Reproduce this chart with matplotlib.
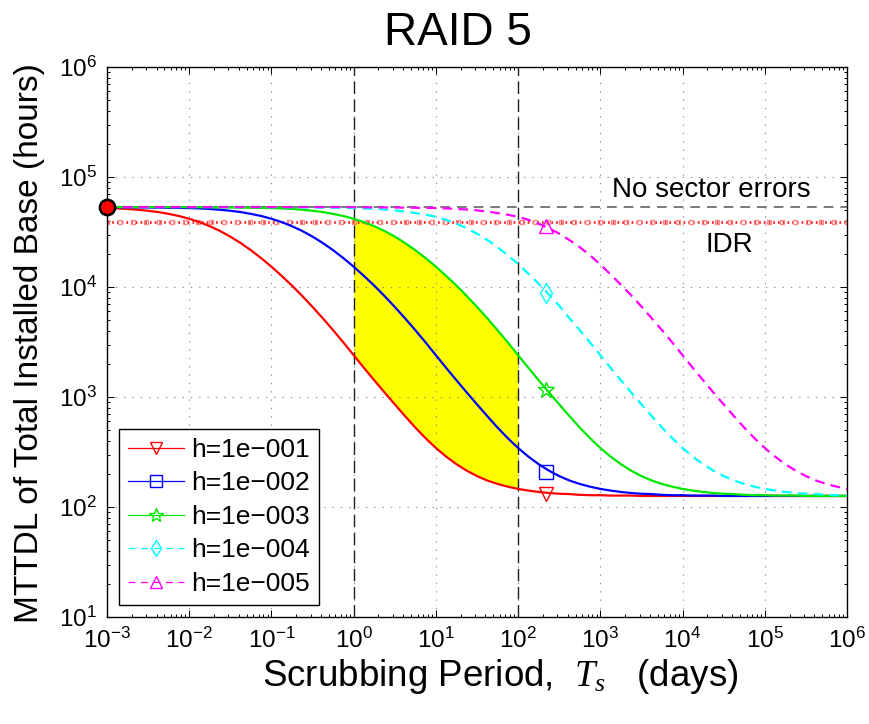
import numpy as np
import matplotlib
matplotlib.use("Agg")
import matplotlib.pyplot as plt
from matplotlib.lines import Line2D
from matplotlib.ticker import LogLocator, NullFormatter

plt.rcParams['font.family'] = ['Liberation Sans', 'DejaVu Sans']
plt.rcParams['mathtext.fontset'] = 'custom'
plt.rcParams['mathtext.rm'] = 'Liberation Sans'
plt.rcParams['mathtext.it'] = 'Liberation Serif:italic'
plt.rcParams['lines.scale_dashes'] = False

# Scrubbing period grid (days): eighth-decade steps from 1e-3 to 1e6 (73 points)
scrub_days = np.logspace(-3, 6, 73)

# MTTDL of total installed base (hours) for each latent-error rate h
mttdl_h1 = ([52200, 51800, 51200, 50400, 49300, 48000, 46200, 44200, 41700, 38900,
             35700, 32300, 28700, 25100, 21600, 18300, 15300, 12600, 10300, 8280,
             6590, 5190, 4050, 3130, 2400, 1840, 1420, 1100, 857, 670,
             527, 422, 344, 287, 245, 214, 191, 174, 162, 153,
             146, 141, 137, 134, 132, 131, 129, 128, 128, 127,
             127, 127, 126] + [126] * 20)
mttdl_h2 = ([53200, 53100, 53000, 52900, 52800, 52650, 52500, 52350,
             52200, 51800, 51200, 50400, 49300, 48000, 46200, 44200, 41700, 38900,
             35700, 32300, 28700, 25100, 21600, 18300, 15300, 12600, 10300, 8280,
             6590, 5190, 4050, 3130, 2400, 1840, 1420, 1100, 857, 670,
             527, 422, 344, 287, 245, 214, 191, 174, 162, 153,
             146, 141, 137, 134, 132, 131, 129, 128, 128, 127,
             127, 127, 126] + [126] * 12)
mttdl_h3 = ([53300] * 8 +
            [53200, 53100, 53000, 52900, 52800, 52650, 52500, 52350,
             52200, 51800, 51200, 50400, 49300, 48000, 46200, 44200, 41700, 38900,
             35700, 32300, 28700, 25100, 21600, 18300, 15300, 12600, 10300, 8280,
             6590, 5190, 4050, 3130, 2400, 1840, 1420, 1100, 857, 670,
             527, 422, 344, 287, 245, 214, 191, 174, 162, 153,
             146, 141, 137, 134, 132, 131, 129, 128, 128, 127,
             127, 127, 126] + [126] * 4)
mttdl_h4 = ([53300] * 16 +
            [53200, 53100, 53000, 52900, 52800, 52650, 52500, 52350,
             52200, 51800, 51300, 50600, 49700, 48500, 47000, 45400, 43500, 40800,
             37600, 34200, 30500, 26800, 23000, 19400, 16200, 13200, 10700, 8550,
             6750, 5190, 4050, 3130, 2400, 1840, 1420, 1100, 857, 670,
             527, 422, 344, 287, 245, 214, 191, 174, 162, 153,
             146, 141, 137, 134, 132, 131, 129, 128, 128])
mttdl_h5 = ([53300] * 24 +
            [53200, 53100, 53000, 52900, 52800, 52650, 52500, 52350,
             52200, 51800, 51300, 50600, 49700, 48500, 47000, 45400, 43500, 40800,
             37600, 34200, 30500, 26700, 23000, 19400, 16000, 13000, 10500, 8400,
             6650, 5190, 4050, 3130, 2400, 1840, 1420, 1100, 857, 670,
             527, 422, 344, 287, 245, 214, 191, 174, 162, 153,
             146])

series_labels = ['h=1e\u2212001', 'h=1e\u2212002', 'h=1e\u2212003', 'h=1e\u2212004', 'h=1e\u2212005']
series_values = [mttdl_h1, mttdl_h2, mttdl_h3, mttdl_h4, mttdl_h5]

# Single marker per curve at T_s ~ 220 days
marker_days = 220
marker_mttdl = [132, 210, 1150, 8900, 35500]

# Reference levels (hours)
no_sector_mttdl = 5.33e4
idr_mttdl = 3.9e4

# Recommended scrubbing window (days)
window_days = [1, 100]

colors = ['#ff0000', '#0000ff', '#00e800', '#00ffff', '#ff00ff']
markers = ['v', 's', '*', 'd', '^']
styles = ['-', '-', '-', (0, (7, 4.5)), (0, (7, 4.5))]

fig = plt.figure(figsize=(8.7, 7.24), dpi=100)
ax = fig.add_axes([107 / 870, 1 - 617 / 724, 740 / 870, 550 / 724])
ax.set_xscale('log')
ax.set_yscale('log')
ax.set_xlim(1e-3, 1e6)
ax.set_ylim(1e1, 1e6)

x = np.asarray(scrub_days)
low = np.asarray(mttdl_h1, dtype=float)
high = np.asarray(mttdl_h3, dtype=float)
in_window = (x >= window_days[0] * 0.999) & (x <= window_days[1] * 1.001)
ax.fill_between(x, low, high, where=in_window, color='#ffff00', lw=0, zorder=1)

for wd in window_days:
    ax.axvline(wd, color='#202020', lw=1.0, ls=(0, (9, 4)), zorder=3)

ax.axhline(no_sector_mttdl, color='#707070', lw=1.3, ls=(0, (7, 5)), zorder=2)
idr_x = np.logspace(-3, 6, 58)
ax.plot(idr_x, np.full_like(idr_x, idr_mttdl), color='#ff2020', lw=2.0,
        ls=(0, (1.2, 2.2)), marker='s', ms=3.5, mfc='none', mec='#ff8080',
        mew=0.9, zorder=2)

for vals, c, m, st, mv in zip(series_values, colors, markers, styles, marker_mttdl):
    ax.plot(x, vals, color=c, lw=1.6, ls=st, zorder=4)
    ax.plot([marker_days], [mv], ls='none', marker=m, ms=10 if m != '*' else 12,
            mfc='none', mec=c, mew=1.0, zorder=5)

ax.plot([scrub_days[0]], [no_sector_mttdl], 'o', ms=11, mfc='#ff0000', mec='black',
        mew=1.8, clip_on=False, zorder=10)

ax.text(1.4e3, 6.6e4, 'No sector errors', fontsize=20, ha='left', va='baseline')
ax.text(1.9e4, 2.08e4, 'IDR', fontsize=20, ha='left', va='baseline')

ax.xaxis.set_major_locator(LogLocator(base=10, numticks=20))
ax.xaxis.set_minor_locator(LogLocator(base=10, subs=np.arange(2, 10), numticks=20))
ax.xaxis.set_minor_formatter(NullFormatter())
ax.yaxis.set_major_locator(LogLocator(base=10, numticks=20))
ax.yaxis.set_minor_locator(LogLocator(base=10, subs=np.arange(2, 10), numticks=20))
ax.yaxis.set_minor_formatter(NullFormatter())
ax.tick_params(which='both', direction='in', top=True, right=True, width=0.7)
ax.tick_params(which='major', length=5, labelsize=17.5)
ax.tick_params(axis='x', which='major', pad=8)
ax.tick_params(axis='y', which='major', pad=7)
ax.tick_params(which='minor', length=2.5)
ax.grid(True, which='major', color='#909090', lw=0.8, ls=(0, (1, 5)))
for sp in ax.spines.values():
    sp.set_linewidth(1.0)

handles = [Line2D([], [], color=c, lw=0.9, ls=('-' if i < 3 else (0, (5, 4))),
                  marker=m, ms=8 if m != '*' else 10, mfc='none', mec=c, mew=1.0)
           for i, (c, m) in enumerate(zip(colors, markers))]
leg = ax.legend(handles, series_labels, loc='lower left', fontsize=19,
                frameon=True, fancybox=False, framealpha=1, edgecolor='black',
                handlelength=2.1, handletextpad=0.27, labelspacing=0.36,
                borderpad=0.35, borderaxespad=0.45)
leg.get_frame().set_linewidth(1.0)

fig.text(30 / 870, 1 - 343 / 724, 'MTTDL of Total Installed Base (hours)',
         rotation=90, ha='center', va='center', fontsize=24)
fig.text(262 / 870, 1 - 686 / 724, 'Scrubbing Period,  $T_s$   (days)',
         ha='left', va='baseline', fontsize=26.5)
fig.text(458 / 870, 1 - 45 / 724, 'RAID 5', ha='center', va='baseline', fontsize=33)

fig.savefig('out.png', dpi=100)
